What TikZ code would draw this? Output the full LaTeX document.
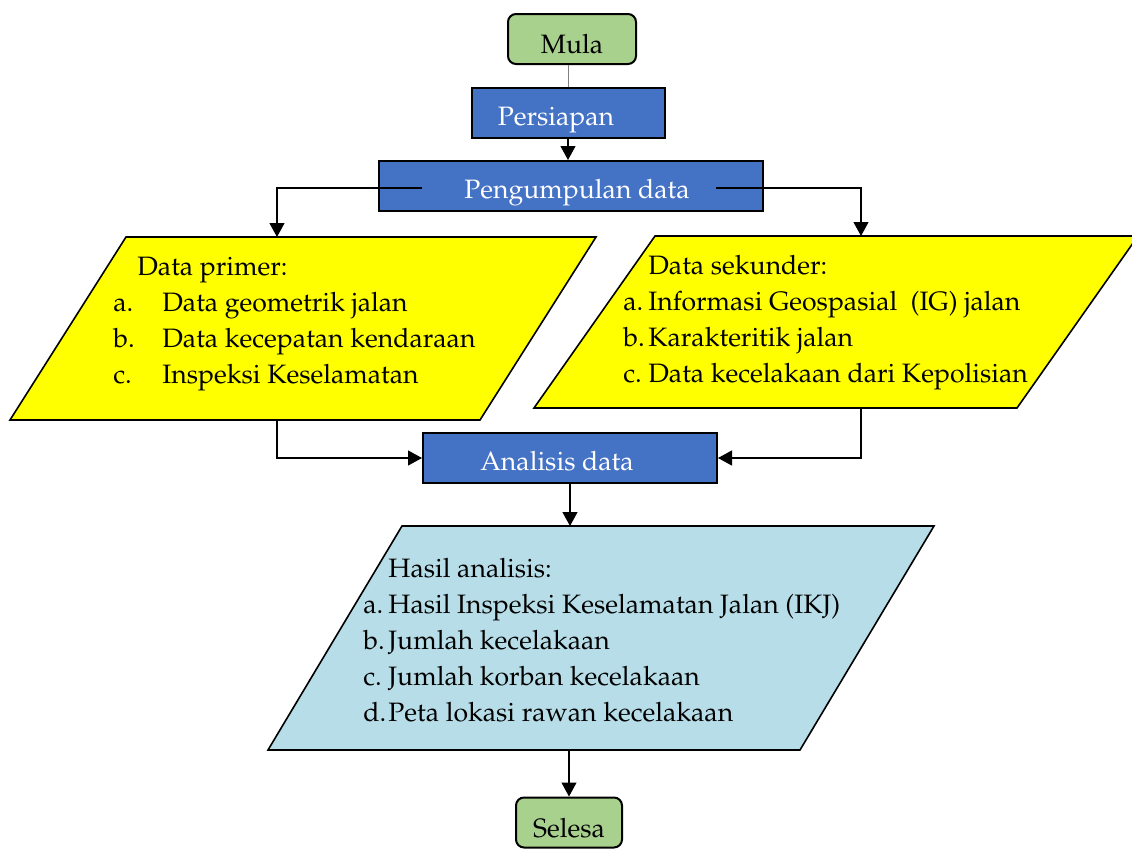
\documentclass[tikz,border=0pt]{standalone}
\usepackage[T1]{fontenc}
\usepackage{mathpazo}
\usetikzlibrary{arrows.meta,calc}
\definecolor{mulahijau}{HTML}{A9D18E}
\definecolor{prosesbiru}{HTML}{4472C4}
\definecolor{datakuning}{HTML}{FFFF00}
\definecolor{hasilbiru}{HTML}{B7DEE8}
\begin{document}
\begin{tikzpicture}[x=0.5pt,y=-0.5pt,
  every node/.style={font=\fontsize{13.3}{18}\selectfont},
  terminal/.style={draw, line width=1pt, rounded corners=4pt, fill=mulahijau, inner sep=0pt, minimum height=25pt, text height=14.5pt, text depth=0pt},
  proses/.style={draw, line width=1pt, fill=prosesbiru, text=white, inner sep=0pt, minimum height=25pt, text height=12.5pt, text depth=0pt},
  datamasuk/.style={draw, line width=0.8pt},
  daftar/.style={inner sep=0pt, anchor=base west},
  panah/.style={line width=0.6pt, -{Triangle[width=7.5pt,length=7pt]}}]
\useasboundingbox (0,0) rectangle (1132,852);
\node[terminal, minimum width=64pt] (mula) at (572,39) {Mula};
\node[proses, minimum width=96.5pt] (persiapan) at (568,112.5) {Persiapan\kern12pt};
\node[proses, minimum width=192pt] (kumpul) at (571,186) {\hspace{6pt}Pengumpulan data};
% jajaran genjang data
\draw[datamasuk, fill=datakuning] (126,237) coordinate (primeratas) -- (596,237) -- (480,420) -- (10,420) coordinate (primerbawah) -- cycle;
\draw[datamasuk, fill=datakuning] (655,236) coordinate (sekunderatas) -- (1138,236) -- (1017,408) -- (534,408) coordinate (sekunderbawah) -- cycle;
\node[proses, minimum width=147pt] (analisis) at (570,458) {Analisis data\kern13pt};
\draw[datamasuk, fill=hasilbiru] (402,526) coordinate (hasilatas) -- (934,526) -- (800,750) -- (268,750) coordinate (hasilbawah) -- cycle;
\node[terminal, minimum width=53pt] (selesa) at (569,822.5) {Selesa};
% isi data
\node[daftar] (primerisi) at (113,275) {\begin{tabular}[t]{@{}p{24.5pt}@{}l@{}}
  \multicolumn{2}{@{}l@{}}{\hspace{12pt}Data primer:}\\
  a. & Data geometrik jalan\\
  b. & Data kecepatan kendaraan\\
  c. & Inspeksi Keselamatan
\end{tabular}};
\node[daftar] (sekunderisi) at (623,274) {\begin{tabular}[t]{@{}p{12.5pt}@{}l@{}}
  & Data sekunder:\\
  a. & Informasi Geospasial~~(IG) jalan\\
  b. & Karakteritik jalan\\
  c. & Data kecelakaan dari Kepolisian
\end{tabular}};
\node[daftar] (hasilisi) at (363,577) {\begin{tabular}[t]{@{}p{12.5pt}@{}l@{}}
  & Hasil analisis:\\
  a. & Hasil Inspeksi Keselamatan Jalan (IKJ)\\
  b. & Jumlah kecelakaan\\
  c. & Jumlah korban kecelakaan\\
  d. & Peta lokasi rawan kecelakaan
\end{tabular}};
% garis
\coordinate (kiri) at (277,0);
\coordinate (kanan) at (861,0);
\draw[gray, line width=0.4pt] (persiapan.north |- mula.south) -- (persiapan.north);
\draw[panah] (persiapan.south) -- (persiapan.south |- kumpul.north);
\draw[panah] ($(kumpul.west)+(44,2)$) -| (primeratas -| kiri);
\draw[panah] ($(kumpul.east)+(-48,2)$) -| (sekunderatas -| kanan);
\draw[panah] (primerbawah -| kiri) |- (analisis.west);
\draw[panah] (sekunderbawah -| kanan) |- (analisis.east);
\draw[panah] (analisis.south) -- (analisis.south |- hasilatas);
\draw[panah] (hasilbawah -| selesa.north) -- (selesa.north);
\end{tikzpicture}
\end{document}
